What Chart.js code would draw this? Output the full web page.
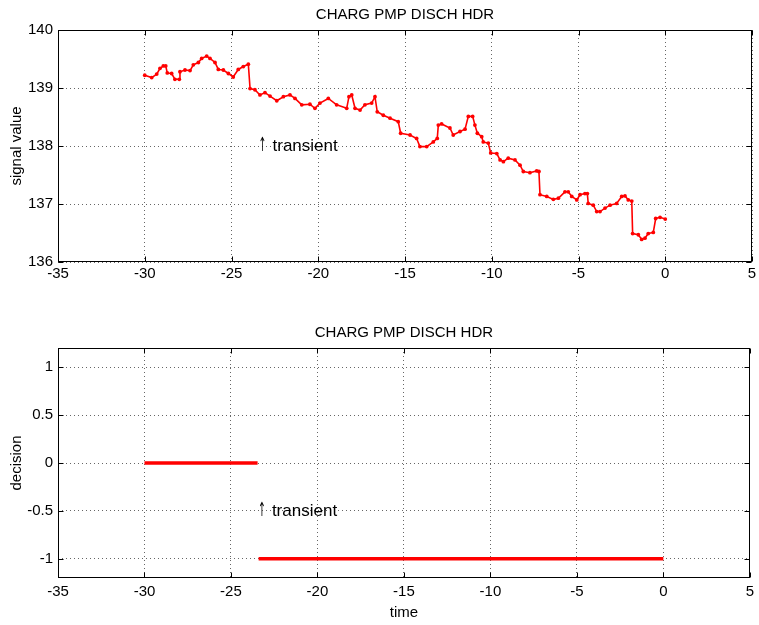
<!DOCTYPE html>
<html>
<head>
<meta charset="utf-8">
<script src="https://cdn.jsdelivr.net/npm/chart.js@4.4.0/dist/chart.umd.min.js"></script>
<style>
  body { margin: 0; background: #fff; }
  #wrap { position: relative; width: 759px; height: 625px; }
  canvas { position: absolute; left: 0; }
</style>
</head>
<body>
<div id="wrap">
  <canvas id="signalChart" width="759" height="300" style="top:0"></canvas>
  <canvas id="decisionChart" width="759" height="325" style="top:300px"></canvas>
</div>
<script>
const FONT = '"Liberation Sans", Arial, sans-serif';

// time axis ticks, shared by both plots
const xTicks = [-35, -30, -25, -20, -15, -10, -5, 0, 5];
const signalTicks = [136, 137, 138, 139, 140];
const decisionTicks = [-1, -0.5, 0, 0.5, 1];

// signal trace
const signalTime = [
  -30.00, -29.60, -29.31, -29.12, -28.93, -28.79, -28.70, -28.45, -28.26, -28.01,
  -27.97, -27.68, -27.39, -27.20, -26.91, -26.72, -26.43, -26.24, -25.95, -25.76,
  -25.47, -25.18, -24.90, -24.61, -24.32, -24.03, -23.93, -23.65, -23.36, -23.07,
  -22.78, -22.39, -22.01, -21.63, -21.34, -20.95, -20.48, -20.19, -19.90, -19.42,
  -18.94, -18.36, -18.23, -18.07, -17.88, -17.59, -17.31, -16.92, -16.73, -16.60,
  -16.25, -15.86, -15.39, -15.25, -14.71, -14.33, -14.14, -13.75, -13.37, -13.14,
  -13.08, -12.89, -12.41, -12.22, -11.83, -11.54, -11.35, -11.10, -10.97, -10.83,
  -10.58, -10.49, -10.20, -10.06, -9.71, -9.52, -9.33, -9.05, -8.66, -8.37,
  -8.18, -7.80, -7.41, -7.28, -7.22, -6.83, -6.45, -6.16, -5.78, -5.59,
  -5.39, -5.10, -4.91, -4.63, -4.49, -4.44, -4.15, -3.95, -3.76, -3.47,
  -3.18, -2.80, -2.51, -2.32, -2.13, -1.93, -1.88, -1.55, -1.36, -1.17,
  -0.98, -0.69, -0.55, -0.30, 0.00
];
const signalValue = [
  139.22, 139.18, 139.24, 139.34, 139.38, 139.38, 139.26, 139.25, 139.15, 139.15,
  139.28, 139.31, 139.30, 139.40, 139.44, 139.51, 139.55, 139.51, 139.44, 139.32,
  139.31, 139.25, 139.19, 139.32, 139.37, 139.41, 138.99, 138.97, 138.88, 138.92,
  138.86, 138.78, 138.85, 138.88, 138.82, 138.71, 138.72, 138.65, 138.74, 138.82,
  138.71, 138.65, 138.85, 138.88, 138.65, 138.62, 138.71, 138.74, 138.85, 138.59,
  138.53, 138.48, 138.42, 138.22, 138.19, 138.13, 137.99, 137.99, 138.07, 138.13,
  138.36, 138.38, 138.31, 138.19, 138.25, 138.29, 138.51, 138.51, 138.36, 138.22,
  138.16, 138.07, 138.05, 137.88, 137.87, 137.76, 137.73, 137.79, 137.76, 137.67,
  137.56, 137.54, 137.57, 137.56, 137.16, 137.13, 137.08, 137.10, 137.21, 137.21,
  137.13, 137.07, 137.16, 137.18, 137.18, 137.01, 136.98, 136.87, 136.87, 136.93,
  136.98, 137.01, 137.13, 137.14, 137.07, 137.05, 136.49, 136.47, 136.39, 136.41,
  136.49, 136.51, 136.75, 136.77, 136.74
];

// decision: two flat runs, no connector between them
const decisionZeroTime = [-30, -23.46];
const decisionZeroValue = [0, 0];
const decisionNegTime = [-23.40, 0];
const decisionNegValue = [-1, -1];

const noteArrow = "\u2191";
const noteText = "transient";
const titleText = "CHARG PMP DISCH HDR";

const pairs = (xs, ys) => xs.map((x, i) => ({ x: x, y: ys[i] }));

// box, inward tick marks, titles and the note
const frame = {
  id: "frame",
  afterDraw(chart, args, opts) {
    const { ctx, chartArea: a } = chart;
    const x = chart.scales.x, y = chart.scales.y;
    const L = Math.round(a.left) + 0.5, R = Math.round(a.right) - 0.5;
    const T = Math.round(a.top) + 0.5, B = Math.round(a.bottom) - 0.5;
    ctx.save();
    ctx.strokeStyle = "#000";
    ctx.lineWidth = 1;
    ctx.strokeRect(L, T, R - L, B - T);
    ctx.beginPath();
    x.ticks.forEach((t) => {
      const px = Math.round(x.getPixelForValue(t.value)) + 0.5;
      ctx.moveTo(px, B); ctx.lineTo(px, B - 5);
      ctx.moveTo(px, T); ctx.lineTo(px, T + 5);
    });
    y.ticks.forEach((t) => {
      const py = Math.round(y.getPixelForValue(t.value)) + 0.5;
      ctx.moveTo(L, py); ctx.lineTo(L + 5, py);
      ctx.moveTo(R, py); ctx.lineTo(R - 5, py);
    });
    ctx.stroke();

    ctx.fillStyle = "#000";
    ctx.font = "15px " + FONT;
    ctx.textBaseline = "middle";
    ctx.textAlign = "center";
    ctx.fillText(opts.title, (a.left + a.right) / 2, a.top - 15);
    if (opts.xlabel) ctx.fillText(opts.xlabel, (a.left + a.right) / 2, a.bottom + 35);
    ctx.save();
    ctx.translate(17, (a.top + a.bottom) / 2);
    ctx.rotate(-Math.PI / 2);
    ctx.fillText(opts.ylabel, 0, 0);
    ctx.restore();

    // arrow + word, anchored at the note's data point
    const nx = x.getPixelForValue(opts.noteX), ny = y.getPixelForValue(opts.noteY);
    ctx.textAlign = "left";
    ctx.save();
    ctx.translate(nx + 1, ny);
    ctx.scale(0.55, 1.15);
    ctx.font = '17px "DejaVu Sans", sans-serif';
    ctx.fillText(noteArrow, 0, 0);
    ctx.restore();
    ctx.font = "17px " + FONT;
    ctx.fillText(noteText, nx + 15, ny);
    ctx.restore();
  },
};

const grid = {
  color: "rgba(0,0,0,0.6)",
  lineWidth: 1,
  drawTicks: false,
};
const border = { display: false, dash: [1, 3] };

function scales(yMin, yMax, yTicks, xHeight, xPad) {
  return {
    x: {
      type: "linear",
      min: -35,
      max: 5,
      grid: grid,
      border: border,
      afterBuildTicks: (s) => { s.ticks = xTicks.map((v) => ({ value: v })); },
      afterFit: (s) => { s.height = xHeight; },
      ticks: { color: "#000", padding: xPad, font: { family: FONT, size: 15 }, maxRotation: 0 },
    },
    y: {
      type: "linear",
      min: yMin,
      max: yMax,
      grid: grid,
      border: border,
      afterBuildTicks: (s) => { s.ticks = yTicks.map((v) => ({ value: v })); },
      afterFit: (s) => { s.width = 58; },
      ticks: { color: "#000", padding: 5, font: { family: FONT, size: 15 }, callback: (v) => String(v) },
    },
  };
}

new Chart(document.getElementById("signalChart"), {
  type: "line",
  data: {
    datasets: [
      {
        data: pairs(signalTime, signalValue),
        borderColor: "#ff0000",
        backgroundColor: "#ff0000",
        borderWidth: 1.6,
        pointRadius: 1.9,
        pointBorderWidth: 0,
        tension: 0,
      },
    ],
  },
  options: {
    responsive: false,
    animation: false,
    layout: { padding: { left: 0, right: 7, top: 30, bottom: 0 } },
    scales: scales(136, 140, signalTicks, 38, 2.5),
    plugins: {
      legend: { display: false },
      tooltip: { enabled: false },
      frame: { title: titleText, ylabel: "signal value", noteX: -23.5, noteY: 138 },
    },
  },
  plugins: [frame],
});

new Chart(document.getElementById("decisionChart"), {
  type: "line",
  data: {
    datasets: [
      {
        data: pairs(decisionZeroTime, decisionZeroValue),
        borderColor: "#ff0000",
        borderWidth: 3.5,
        pointRadius: 0,
      },
      {
        data: pairs(decisionNegTime, decisionNegValue),
        borderColor: "#ff0000",
        borderWidth: 3.5,
        pointRadius: 0,
      },
    ],
  },
  options: {
    responsive: false,
    animation: false,
    layout: { padding: { left: 0, right: 7, top: 48, bottom: 0 } },
    scales: scales(-1.2, 1.2, decisionTicks, 47, 5),
    plugins: {
      legend: { display: false },
      tooltip: { enabled: false },
      frame: { title: titleText, ylabel: "decision", xlabel: "time", noteX: -23.5, noteY: -0.5 },
    },
  },
  plugins: [frame],
});
</script>
</body>
</html>
